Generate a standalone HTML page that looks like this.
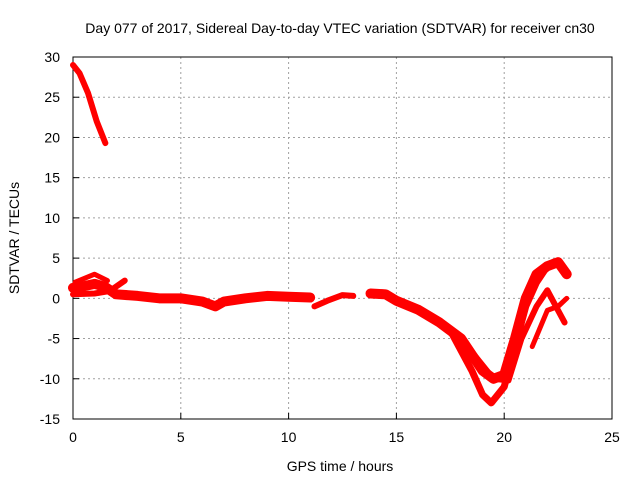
<!DOCTYPE html>
<html><head><style>
body{margin:0;background:#fff}
text{font-family:"Liberation Sans",sans-serif;font-size:14px;fill:#000}
</style></head><body>
<svg id="c" width="640" height="480"></svg>
<script>
const xTicks=[0,5,10,15,20,25];
const yTicks=[-15,-10,-5,0,5,10,15,20,25,30];
const seriesEarly=[[0,29],[0.3,28],[0.7,25.5],[1.1,22],[1.5,19.3]];
const seriesFlat=[[0,1.3],[0.5,1.5],[1,1.8],[1.5,1.4],[2,0.5],[3,0.3],[4,0],[5,0],[6,-0.4],[6.6,-1],[7,-0.4],[8,0],[9,0.3],[10,0.2],[11,0.1]];
const seriesFlat2=[[0,0.5],[1,0.6],[1.7,0.9],[2.4,2.2]];
const seriesFlat3=[[0.1,2],[1,3],[1.6,2.2]];
const seriesMid=[[11.2,-1],[11.8,-0.3],[12.5,0.4],[13,0.3]];
const seriesDayA=[[13.8,0.6],[14.5,0.5],[15,-0.3],[16,-1.4],[17,-3],[18,-5],[18.5,-7],[19,-9],[19.5,-10],[20,-9.5],[20.5,-5],[21,0],[21.5,3],[22,4],[22.5,4.5],[22.9,3]];
const seriesDayB=[[17.5,-4],[18.5,-9],[19,-12],[19.4,-13],[20,-11],[20.5,-6],[21,-1],[21.5,2],[22,4],[22.3,4.5]];
const seriesDayC=[[18.3,-6],[19.5,-10],[20.2,-10.2],[20.8,-5],[21.5,-1],[22,1],[22.5,-1.5],[22.8,-3]];
const seriesDayD=[[21.3,-6],[22,-1.5],[22.5,-1],[22.9,0]];
const X0=73,X1=612,Y0=57,Y1=419;
const sx=h=>X0+(h-0)/(25-0)*(X1-X0);
const sy=v=>Y1-(v+15)/(30+15)*(Y1-Y0);
const svg=document.getElementById('c');
const NS='http://www.w3.org/2000/svg';
function mk(t,a){const e=document.createElementNS(NS,t);for(const k in a)e.setAttribute(k,a[k]);svg.appendChild(e);return e;}
for(const t of xTicks){
 if(t>0&&t<25){const g=mk('line',{x1:sx(t),x2:sx(t),y1:Y0,y2:Y1,stroke:'#a0a0a0','stroke-dasharray':'2,3'});
 
 }
 const l=mk('text',{x:sx(t),y:442,'text-anchor':'middle'});l.textContent=t;
 
 
 mk('line',{x1:sx(t),x2:sx(t),y1:Y1,y2:Y1-6,stroke:'#000'});
}
for(const t of yTicks){
 if(t>-15&&t<30){const g=mk('line',{x1:X0,x2:X1,y1:sy(t),y2:sy(t),stroke:'#a0a0a0','stroke-dasharray':'2,3'});
 
 }
 const l=mk('text',{x:60,y:sy(t)+5,'text-anchor':'end'});l.textContent=t;
 
 
 mk('line',{x1:X0,x2:X0+6,y1:sy(t),y2:sy(t),stroke:'#000'});
}
const f=mk('rect',{x:X0,y:Y0,width:X1-X0,height:Y1-Y0,fill:'none',stroke:'#000'});


const all=[[seriesEarly,6],[seriesFlat,10],[seriesFlat2,6],[seriesFlat3,5],[seriesMid,6],[seriesDayA,10],[seriesDayB,7],[seriesDayC,6],[seriesDayD,5]];
for(const [s,w] of all){
 const p=mk('polyline',{points:s.map(d=>sx(d[0])+','+sy(d[1])).join(' '),fill:'none',stroke:'#f00','stroke-width':w,'stroke-linejoin':'round','stroke-linecap':'round'});
 
 
}
const tt=mk('text',{x:340,y:33,'text-anchor':'middle'});tt.textContent='Day 077 of 2017, Sidereal Day-to-day VTEC variation (SDTVAR) for receiver cn30';


const xl=mk('text',{x:340,y:471,'text-anchor':'middle'});xl.textContent='GPS time / hours';


const yl=mk('text',{x:0,y:0,'text-anchor':'middle',transform:'translate(19,238) rotate(-90)'});yl.textContent='SDTVAR / TECUs';


</script>
</body></html>
